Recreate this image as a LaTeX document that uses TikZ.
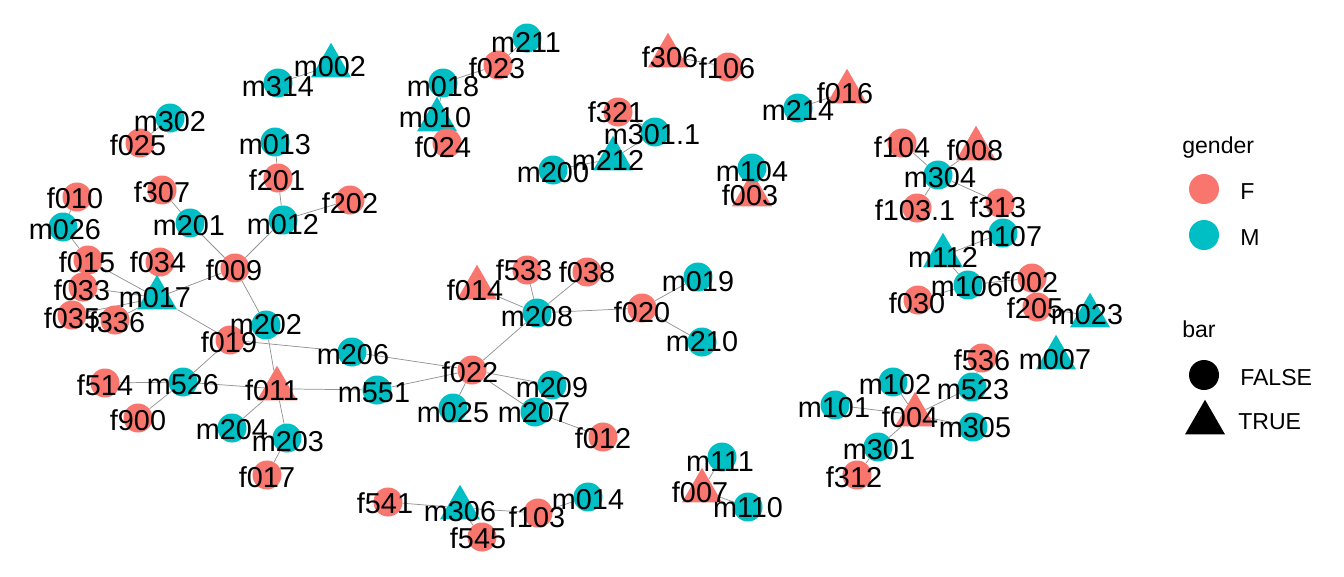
\documentclass[tikz,border=0pt]{standalone}
\usepackage{fontspec}
\setmainfont{Liberation Sans}
\usetikzlibrary{shapes.geometric}
\pgfdeclarelayer{bg}\pgfdeclarelayer{fg}
\pgfsetlayers{bg,main,fg}
\definecolor{colF}{HTML}{F8766D}
\definecolor{colM}{HTML}{00BFC4}
\newcommand{\GNc}[7]{\node[dot,fill=col#4] (#1) at (#2,#3) {};\begin{pgfonlayer}{fg}\node[lbl] (l#1) at (#5,#6) {#7};\end{pgfonlayer}}
\newcommand{\GNt}[7]{\node[tri,fill=col#4] (#1) at (#2,{#3+5.8}) {};\begin{pgfonlayer}{fg}\node[lbl] (l#1) at (#5,#6) {#7};\end{pgfonlayer}}
\newcommand{\GEdge}[2]{\begin{pgfonlayer}{bg}\draw[edge] (#1) -- (#2);\end{pgfonlayer}}
\tikzset{
  dot/.style={circle,draw=none,inner sep=0pt,minimum size=21.75pt},
  tri/.style={regular polygon,regular polygon sides=3,draw=none,inner sep=0pt,minimum size=34.6pt},
  lbl/.style={inner sep=0pt,font=\fontsize{21.6}{24}\selectfont,text=black},
  lgt/.style={inner sep=0pt,font=\fontsize{17.3}{20}\selectfont,text=black,anchor=base west},
  edge/.style={draw=gray!85,line width=0.55pt}
}
\begin{document}
\begin{tikzpicture}[x=0.75pt,y=-0.75pt]
\begin{pgfonlayer}{bg}
\fill[white] (0,0) rectangle (1344,576);
\end{pgfonlayer}
\useasboundingbox (0,0) rectangle (1344,576);
% left cluster
\GNc{f010}{77}{197}{F}{75}{198}{f010}
\GNc{m026}{63}{227}{M}{65}{230}{m026}
\GNc{f015}{88}{260}{F}{87}{262}{f015}
\GNc{f034}{160}{262}{F}{158}{262}{f034}
\GNc{f033}{83}{287}{F}{82}{290}{f033}
\GNt{m017}{157}{292}{M}{155}{298}{m017}
\GNc{f035}{72}{315}{F}{72}{318}{f035}
\GNc{f336}{115}{320}{F}{117}{322}{f336}
\GNc{f307}{162}{190}{F}{162}{192}{f307}
\GNc{m201}{190}{223}{M}{189}{226}{m201}
\GNc{m012}{283}{220}{M}{283}{225}{m012}
\GNc{f201}{278}{178}{F}{277}{180}{f201}
\GNc{f202}{350}{200}{F}{350}{203}{f202}
\GNc{m013}{275}{142}{M}{275}{145}{m013}
\GNc{f009}{235}{268}{F}{234}{270}{f009}
\GNc{m202}{266}{325}{M}{266}{325}{m202}
\GNc{f019}{230}{340}{F}{229}{342}{f019}
\GNc{m526}{183}{382}{M}{183}{385}{m526}
\GNc{f514}{105}{383}{F}{105}{385}{f514}
\GNc{f900}{138}{418}{F}{138}{420}{f900}
\GNt{f011}{277}{383}{F}{272}{390}{f011}
\GNc{m204}{232}{428}{M}{232}{430}{m204}
\GNc{m203}{287}{438}{M}{288}{442}{m203}
\GNc{f017}{267}{475}{F}{267}{477}{f017}
% centre cluster
\GNt{f014}{477}{282}{F}{475}{290}{f014}
\GNc{f533}{527}{270}{F}{524}{270}{f533}
\GNc{f038}{587}{272}{F}{587}{272}{f038}
\GNc{m208}{537}{313}{M}{537}{317}{m208}
\GNc{f020}{642}{308}{F}{642}{312}{f020}
\GNc{m019}{698}{277}{M}{698}{282}{m019}
\GNc{m210}{702}{342}{M}{702}{342}{m210}
\GNc{m206}{352}{352}{M}{353}{355}{m206}
\GNc{f022}{472}{370}{F}{470}{372}{f022}
\GNc{m551}{377}{390}{M}{374}{393}{m551}
\GNc{m209}{552}{385}{M}{552}{388}{m209}
\GNc{m025}{453}{408}{M}{453}{413}{m025}
\GNc{m207}{535}{412}{M}{534}{413}{m207}
\GNc{f012}{603}{437}{F}{603}{438}{f012}
% bottom
\GNc{f541}{388}{502}{F}{385}{503}{f541}
\GNt{m306}{460}{502}{M}{460}{512}{m306}
\GNc{f545}{482}{537}{F}{478}{538}{f545}
\GNc{f103}{538}{513}{F}{537}{517}{f103}
\GNc{m014}{588}{497}{M}{588}{500}{m014}
\GNc{m111}{722}{457}{M}{720}{462}{m111}
\GNt{f007}{702}{485}{F}{700}{492}{f007}
\GNc{m110}{748}{507}{M}{748}{508}{m110}
% right bottom
\GNc{m102}{893}{382}{M}{895}{385}{m102}
\GNt{f004}{915}{409}{F}{910}{417}{f004}
\GNc{m101}{835}{405}{M}{834}{408}{m101}
\GNc{f536}{982}{358}{F}{982}{360}{f536}
\GNc{m523}{972}{387}{M}{973}{390}{m523}
\GNt{m007}{1056}{352}{M}{1055}{360}{m007}
\GNc{m305}{973}{427}{M}{975}{428}{m305}
\GNc{m301}{878}{447}{M}{879}{450}{m301}
\GNc{f312}{857}{475}{F}{854}{477}{f312}
% right top
\GNc{f104}{902}{143}{F}{902}{147}{f104}
\GNt{f008}{976}{143}{F}{975}{150}{f008}
\GNc{m304}{938}{175}{M}{940}{178}{m304}
\GNc{f1031}{917}{208}{F}{915}{210}{f103.1}
\GNc{f313}{1000}{203}{F}{998}{207}{f313}
\GNc{m107}{1003}{233}{M}{1006}{237}{m107}
\GNt{m112}{943}{250}{M}{943}{257}{m112}
\GNc{m106}{968}{285}{M}{967}{287}{m106}
\GNc{f002}{1032}{278}{F}{1030}{282}{f002}
\GNc{f030}{918}{300}{F}{917}{303}{f030}
\GNc{f205}{1037}{307}{F}{1035}{308}{f205}
\GNt{m023}{1090}{310}{M}{1087}{315}{m023}
% top
\GNt{m002}{331}{60}{M}{330}{67}{m002}
\GNc{m314}{278}{83}{M}{278}{87}{m314}
\GNc{m302}{170}{118}{M}{170}{122}{m302}
\GNc{f025}{140}{143}{F}{138}{145}{f025}
\GNc{m211}{527}{38}{M}{526}{42}{m211}
\GNc{f023}{498}{65}{F}{497}{68}{f023}
\GNc{m018}{443}{83}{M}{443}{87}{m018}
\GNt{m010}{437}{114}{M}{435}{118}{m010}
\GNc{f024}{447}{143}{F}{443}{147}{f024}
\GNt{f306}{668}{50}{F}{670}{57}{f306}
\GNc{f106}{728}{67}{F}{727}{68}{f106}
\GNc{f321}{618}{112}{F}{616}{112}{f321}
\GNc{m3011}{655}{132}{M}{652}{135}{m301.1}
\GNt{m212}{613}{153}{M}{608}{160}{m212}
\GNc{m200}{553}{170}{M}{553}{173}{m200}
\GNc{m214}{798}{108}{M}{798}{110}{m214}
\GNt{f016}{847}{86}{F}{845}{93}{f016}
\GNt{f003}{752}{189}{F}{750}{195}{f003}
\GNc{m104}{752}{168}{M}{752}{172}{m104}
% edges
\GEdge{f010}{m026}\GEdge{m026}{f015}\GEdge{f015}{m017}\GEdge{f033}{m017}
\GEdge{f035}{m017}\GEdge{f336}{m017}\GEdge{f034}{m017}\GEdge{m017}{f009}
\GEdge{m017}{f019}\GEdge{f307}{m201}\GEdge{m201}{f009}\GEdge{m012}{f009}
\GEdge{f201}{m012}\GEdge{m013}{f201}\GEdge{m012}{f202}\GEdge{f009}{m202}
\GEdge{m202}{f011}\GEdge{m202}{f019}\GEdge{f019}{m526}\GEdge{m526}{f514}
\GEdge{m526}{f900}\GEdge{m526}{f011}\GEdge{f011}{m204}\GEdge{f011}{m203}
\GEdge{m203}{f017}\GEdge{f019}{m206}\GEdge{m206}{f022}\GEdge{f011}{m551}
\GEdge{m551}{f022}\GEdge{f022}{m208}\GEdge{f022}{m209}\GEdge{f022}{m025}
\GEdge{f022}{m207}\GEdge{m207}{f012}\GEdge{m208}{f014}\GEdge{m208}{f533}
\GEdge{m208}{f038}\GEdge{m208}{f020}\GEdge{f020}{m019}\GEdge{f020}{m210}
\GEdge{f541}{m306}\GEdge{m306}{f103}\GEdge{m306}{f545}\GEdge{f103}{m014}
\GEdge{f007}{m111}\GEdge{f007}{m110}
\GEdge{f004}{m102}\GEdge{f004}{m101}\GEdge{f004}{m523}\GEdge{f004}{m305}
\GEdge{f004}{m301}\GEdge{m301}{f312}\GEdge{f536}{m523}
\GEdge{m304}{f104}\GEdge{m304}{f008}\GEdge{m304}{f1031}\GEdge{m304}{f313}
\GEdge{m107}{m112}\GEdge{m112}{m106}\GEdge{m106}{f030}\GEdge{m106}{f002}
\GEdge{f205}{m023}\GEdge{m314}{m002}\GEdge{m302}{f025}
\GEdge{m211}{f023}\GEdge{f023}{m018}\GEdge{m018}{m010}\GEdge{m010}{f024}
\GEdge{f306}{f106}\GEdge{f321}{m3011}\GEdge{m3011}{m212}\GEdge{m212}{m200}
\GEdge{m214}{f016}\GEdge{m104}{f003}
% legend
\node[lgt] (lg-gender) at (1182,153) {gender};
\node[dot,minimum size=22.5pt,fill=colF] (lg-F) at (1204,189) {};
\node[lgt] (lg-Ft) at (1240,199) {F};
\node[dot,minimum size=22.5pt,fill=colM] (lg-M) at (1204,235) {};
\node[lgt] (lg-Mt) at (1240,245) {M};
\node[lgt] (lg-bar) at (1182,337) {bar};
\node[dot,minimum size=22.5pt,fill=black] (lg-FALSE) at (1204,375) {};
\node[lgt] (lg-FALSEt) at (1240,385) {FALSE};
\node[tri,minimum size=34.6pt,fill=black] (lg-TRUE) at (1205,422.8) {};
\node[lgt] (lg-TRUEt) at (1238,429) {TRUE};
\end{tikzpicture}
\end{document}
